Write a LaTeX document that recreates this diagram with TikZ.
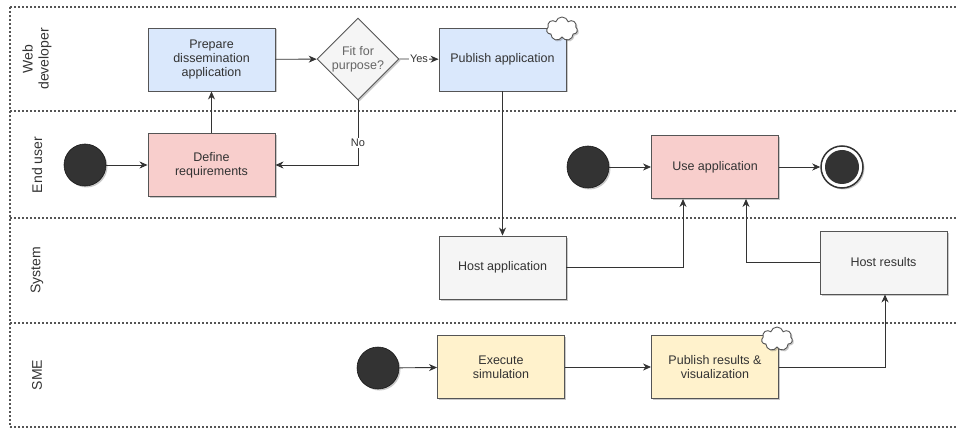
\documentclass[tikz,border=0pt]{standalone}
\usepackage{fontspec}
\setmainfont{Liberation Sans}
\usetikzlibrary{shapes.geometric,shapes.symbols,arrows.meta,shadows}
\definecolor{blueF}{HTML}{DAE8FC}
\definecolor{pinkF}{HTML}{F8CECC}
\definecolor{yelF}{HTML}{FFF2CC}
\definecolor{grayF}{HTML}{F5F5F5}
\definecolor{edgeC}{HTML}{555555}
\definecolor{txtC}{HTML}{333333}
\definecolor{dotC}{HTML}{333333}
\definecolor{laneC}{HTML}{555555}
\begin{document}
\begin{tikzpicture}[x=1pt,y=-1pt,
  font=\fontsize{12.5}{14}\selectfont,
  shad/.style={drop shadow={shadow xshift=1.5pt,shadow yshift=-1.5pt,opacity=0.3,fill=black!70}},
  task/.style={draw=edgeC,line width=0.9pt,minimum width=127pt,minimum height=63pt,align=center,text=txtC,inner sep=2pt,shad},
  startc/.style={circle,fill=dotC,draw=black!90,line width=0.6pt,minimum size=42pt,inner sep=0pt,shad},
  decis/.style={diamond,aspect=1,draw=edgeC,line width=0.9pt,fill=grayF,minimum width=82pt,minimum height=82pt,inner sep=0pt,align=center,text=black!60,shad},
  puff/.style={cloud,cloud puffs=7,aspect=1.3,draw=edgeC,line width=0.9pt,fill=white,minimum width=31pt,minimum height=24pt,inner sep=0pt,shad},
  conn/.style={draw=txtC,line width=0.9pt,-{Stealth[length=8pt,width=7pt,inset=2.5pt]}},
  lbl/.style={fill=white,inner sep=1pt,font=\fontsize{11}{12}\selectfont,text=txtC},
  lane/.style={draw=laneC,line width=1.2pt,dash pattern=on 2pt off 2pt},
  lanelbl/.style={rotate=90,align=center,text=txtC,font=\fontsize{14}{16}\selectfont}
]
\useasboundingbox (0,0) rectangle (957,430);
% lanes
\draw[lane] (10,7) -- (957,7);
\draw[lane] (10,111) -- (957,111);
\draw[lane] (10,218) -- (957,218);
\draw[lane] (10,323) -- (957,323);
\draw[lane] (10,427) -- (957,427);
\draw[lane] (10,7) -- (10,427);
\node[lanelbl] (l1) at (37,59) {Web\\developer};
\node[lanelbl] (l2) at (37,165) {End user};
\node[lanelbl] (l3) at (37,270) {System};
\node[lanelbl] (l4) at (37,375) {SME};
% nodes
\node[task,fill=blueF] (prep) at (211.5,59.5) {Prepare\\dissemination\\application};
\node[task,fill=pinkF] (def) at (211.5,165) {Define\\requirements};
\node[startc] (s1) at (85,165) {};
\node[decis] (dia) at (358,59) {Fit for\\purpose?};
\node[task,fill=blueF] (pub) at (502.5,59.5) {Publish application};
\node[puff] (c1) at (562,29) {};
\node[startc] (s2) at (588,167) {};
\node[task,fill=pinkF] (use) at (715,167) {Use application};
\node[circle,draw=dotC,line width=1.5pt,fill=white,minimum size=42pt,inner sep=0pt,shad] (e1) at (842,167) {};
\node[circle,fill=dotC,minimum size=34pt,inner sep=0pt] (e2) at (842,167) {};
\node[task,fill=grayF] (hosta) at (502.5,267.5) {Host application};
\node[task,fill=grayF] (hostr) at (883.5,262.5) {Host results};
\node[startc] (s3) at (378,368) {};
\node[task,fill=yelF] (exec) at (501,367) {Execute\\simulation};
\node[task,fill=yelF] (pubr) at (715,367) {Publish results \&\\visualization};
\node[puff] (c2) at (777,339) {};
% connectors
\draw[conn] (s1) -- (def);
\draw[conn] (def) -- (prep);
\draw[conn] (prep) -- (dia);
\draw[conn] (dia.east) -- node[lbl]{Yes} (pub);
\draw[conn] (dia.south) |- node[lbl,pos=0.33]{No} (def.east);
\draw[conn] (pub) -- (hosta);
\draw[conn] (hosta.east) -| ([xshift=-32pt]use.south);
\draw[conn] (hostr.west) -| ([xshift=31pt]use.south);
\draw[conn] (s2) -- (use);
\draw[conn] (use) -- (e1);
\draw[conn] (s3) -- (exec);
\draw[conn] (exec) -- (pubr);
\draw[conn] (pubr.east) -| ([xshift=1.5pt]hostr.south);
\end{tikzpicture}
\end{document}
